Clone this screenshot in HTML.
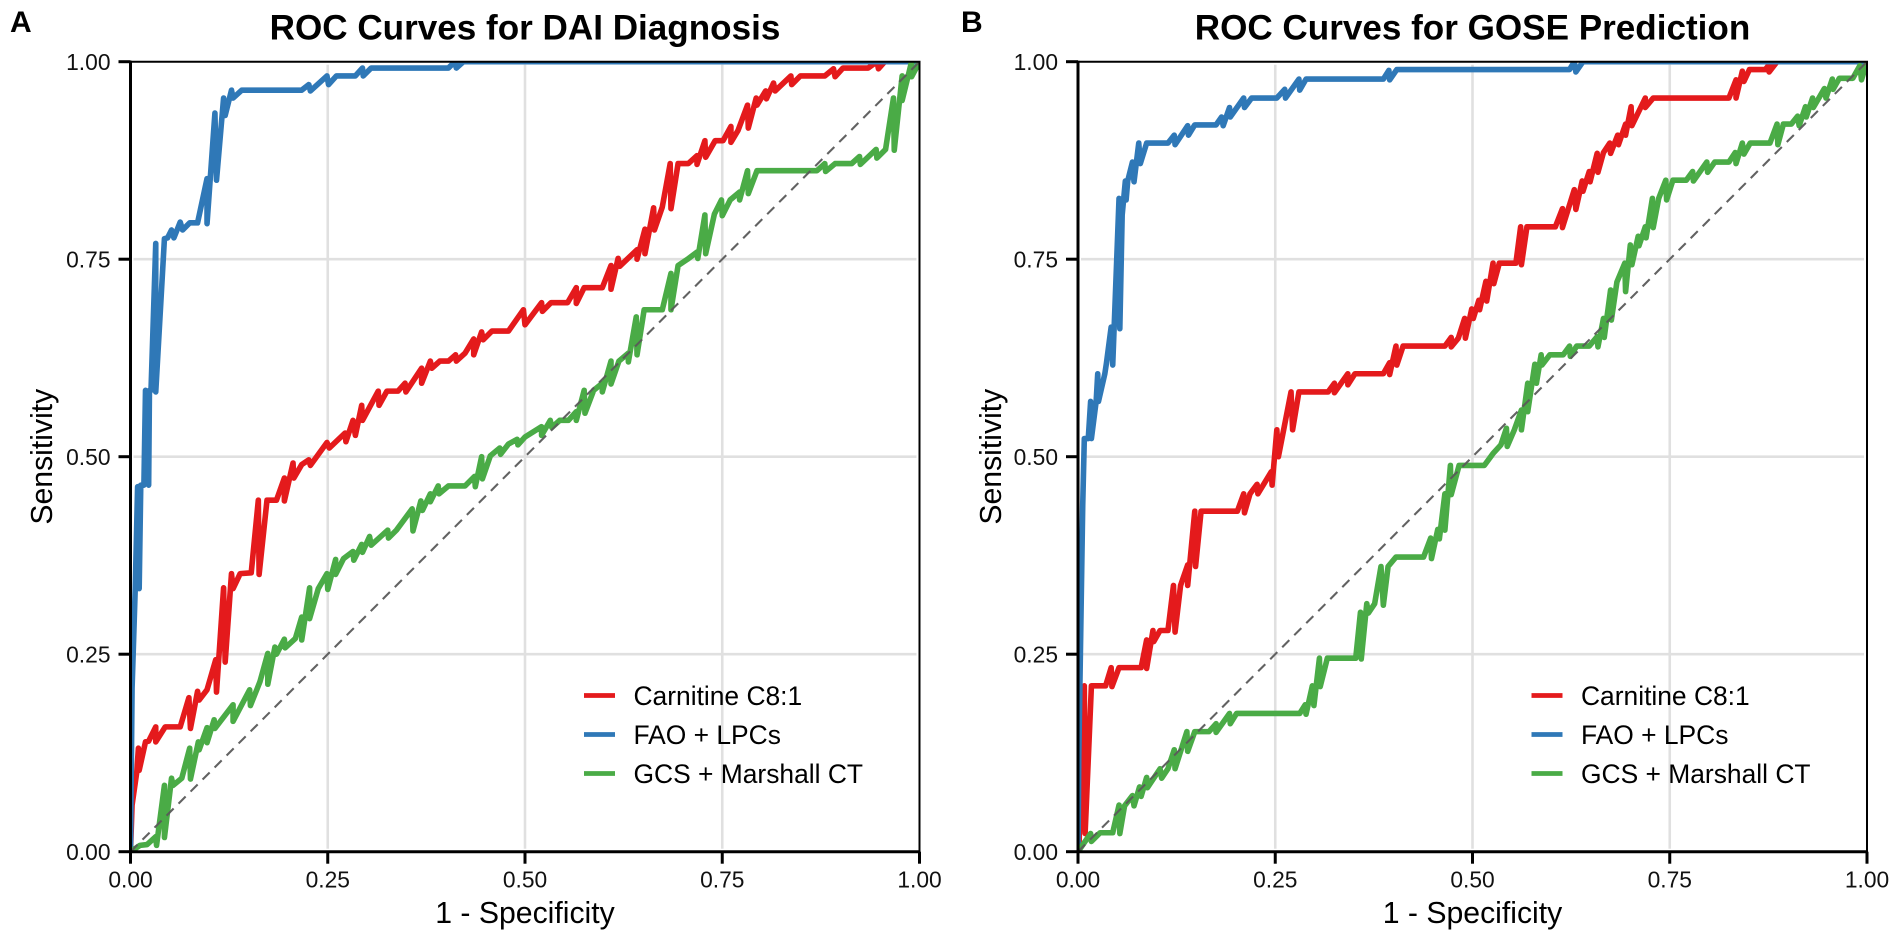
<!DOCTYPE html>
<html lang="en">
<head>
<meta charset="utf-8">
<title>ROC Curves</title>
<style>
html,body{margin:0;padding:0;background:#fff;width:1901px;height:941px;overflow:hidden}
svg{display:block;font-family:"Liberation Sans",Arial,sans-serif}
</style>
</head>
<body>
<svg id="figure" xmlns="http://www.w3.org/2000/svg" width="1901" height="941" viewBox="0 0 1901 941"></svg>
<script>
const tickValues = [0, 0.25, 0.5, 0.75, 1];
const tickLabels = ['0.00', '0.25', '0.50', '0.75', '1.00'];
const seriesNames = ['Carnitine C8:1', 'FAO + LPCs', 'GCS + Marshall CT'];
const diagonalLine = [[0, 0], [1, 1]];

const daiCarnitine = [[0,0],[.002,.059],[.008,.101],[.010,.131],[.011,.103],[.019,.139],[.023,.140],[.032,.158],[.032,.139],[.044,.158],[.063,.158],[.074,.195],[.076,.156],[.085,.203],[.087,.192],[.097,.205],[.108,.243],[.109,.202],[.118,.334],[.120,.240],[.128,.352],[.130,.333],[.139,.352],[.153,.353],[.162,.445],[.163,.351],[.173,.445],[.185,.445],[.195,.473],[.195,.444],[.206,.492],[.207,.473],[.217,.490],[.226,.496],[.228,.489],[.249,.518],[.252,.511],[.272,.530],[.273,.519],[.282,.546],[.285,.527],[.293,.565],[.294,.546],[.314,.583],[.315,.565],[.325,.583],[.339,.583],[.348,.593],[.349,.582],[.369,.612],[.369,.593],[.380,.621],[.382,.612],[.392,.621],[.403,.621],[.412,.629],[.413,.621],[.424,.631],[.435,.649],[.435,.629],[.445,.658],[.447,.648],[.458,.659],[.479,.659],[.498,.686],[.500,.667],[.521,.695],[.522,.684],[.533,.695],[.554,.695],[.565,.714],[.565,.694],[.575,.714],[.598,.714],[.609,.742],[.609,.712],[.618,.751],[.620,.741],[.642,.762],[.642,.750],[.652,.788],[.652,.757],[.663,.815],[.664,.787],[.674,.816],[.684,.871],[.685,.814],[.694,.871],[.707,.871],[.718,.881],[.718,.870],[.728,.900],[.729,.879],[.741,.900],[.751,.900],[.761,.918],[.761,.898],[.770,.913],[.782,.945],[.783,.916],[.793,.954],[.794,.945],[.805,.963],[.806,.953],[.815,.973],[.817,.963],[.837,.982],[.838,.971],[.849,.982],[.880,.982],[.891,.991],[.893,.981],[.903,.992],[.935,.992],[.946,1],[.948,.991],[.956,1],[1,1]];

const daiFaoLpc = [[0,0],[.002,.207],[.006,.333],[.009,.462],[.011,.333],[.013,.464],[.017,.464],[.019,.584],[.023,.464],[.024,.584],[.026,.584],[.032,.770],[.032,.582],[.043,.776],[.047,.777],[.052,.787],[.055,.777],[.063,.797],[.066,.787],[.075,.796],[.085,.796],[.097,.852],[.097,.795],[.107,.935],[.109,.850],[.118,.954],[.120,.932],[.128,.964],[.130,.954],[.141,.964],[.217,.964],[.226,.971],[.228,.963],[.249,.982],[.251,.971],[.261,.982],[.285,.982],[.294,.992],[.295,.982],[.305,.992],[.403,.992],[.411,1],[.413,.992],[.422,1],[1,1]];

const daiGcsMarshall = [[0,0],[.012,.008],[.021,.009],[.032,.019],[.033,.008],[.043,.084],[.043,.018],[.052,.093],[.054,.084],[.065,.093],[.075,.131],[.076,.092],[.086,.139],[.087,.129],[.097,.157],[.097,.138],[.106,.167],[.107,.156],[.120,.173],[.130,.186],[.130,.165],[.151,.205],[.152,.185],[.164,.215],[.174,.251],[.174,.212],[.183,.259],[.185,.250],[.195,.269],[.196,.258],[.209,.270],[.217,.297],[.217,.268],[.227,.334],[.227,.295],[.238,.333],[.249,.352],[.250,.332],[.260,.370],[.260,.351],[.270,.371],[.282,.380],[.283,.369],[.293,.389],[.294,.379],[.303,.399],[.305,.388],[.326,.407],[.327,.397],[.337,.407],[.357,.434],[.358,.406],[.368,.444],[.370,.432],[.380,.453],[.380,.443],[.390,.463],[.391,.453],[.403,.463],[.424,.463],[.436,.475],[.437,.462],[.445,.500],[.446,.472],[.456,.501],[.468,.511],[.469,.503],[.479,.516],[.490,.522],[.491,.515],[.5,.525],[.521,.538],[.521,.527],[.532,.546],[.534,.537],[.544,.546],[.555,.546],[.565,.557],[.565,.546],[.575,.584],[.576,.555],[.587,.584],[.598,.593],[.598,.582],[.609,.621],[.609,.592],[.619,.621],[.631,.631],[.631,.620],[.641,.677],[.642,.629],[.651,.686],[.663,.686],[.674,.686],[.685,.732],[.685,.686],[.694,.742],[.706,.750],[.718,.759],[.719,.751],[.728,.806],[.729,.757],[.740,.807],[.749,.825],[.750,.805],[.760,.825],[.772,.835],[.772,.825],[.782,.862],[.783,.833],[.794,.862],[.870,.862],[.880,.871],[.881,.861],[.893,.871],[.914,.871],[.924,.880],[.925,.870],[.945,.889],[.946,.878],[.957,.889],[.967,.954],[.968,.888],[.978,.982],[.978,.951],[.990,1],[.990,.981],[1,1]];

const goseCarnitine = [[.001,0],[.008,.210],[.009,.023],[.017,.210],[.035,.210],[.042,.233],[.043,.209],[.052,.233],[.080,.233],[.087,.268],[.087,.232],[.095,.280],[.096,.266],[.104,.280],[.114,.280],[.121,.337],[.123,.278],[.130,.337],[.139,.363],[.139,.337],[.148,.431],[.149,.361],[.156,.431],[.202,.431],[.210,.453],[.211,.429],[.218,.453],[.227,.465],[.228,.453],[.245,.481],[.246,.464],[.252,.534],[.254,.500],[.270,.582],[.272,.534],[.280,.582],[.317,.582],[.325,.593],[.325,.581],[.342,.605],[.342,.591],[.351,.605],[.387,.605],[.395,.619],[.395,.604],[.403,.640],[.404,.616],[.412,.640],[.465,.640],[.473,.651],[.473,.639],[.482,.650],[.490,.675],[.491,.650],[.499,.687],[.501,.675],[.508,.698],[.509,.686],[.517,.722],[.518,.697],[.526,.745],[.527,.719],[.534,.745],[.555,.745],[.561,.791],[.562,.743],[.569,.791],[.605,.791],[.614,.814],[.614,.790],[.629,.838],[.631,.813],[.639,.849],[.640,.836],[.648,.861],[.649,.848],[.658,.884],[.659,.860],[.666,.885],[.674,.897],[.675,.884],[.684,.907],[.685,.895],[.694,.921],[.694,.907],[.701,.943],[.702,.919],[.719,.954],[.719,.942],[.729,.954],[.825,.954],[.834,.977],[.834,.954],[.842,.988],[.844,.975],[.851,.990],[.871,.990],[.879,1],[.876,.987],[.886,1],[1,1]];

const goseFaoLpc = [[0,0],[.001,.122],[.003,.249],[.006,.439],[.008,.523],[.013,.523],[.016,.570],[.017,.523],[.023,.570],[.025,.605],[.026,.570],[.034,.605],[.036,.618],[.042,.664],[.044,.616],[.052,.827],[.053,.662],[.056,.806],[.060,.849],[.061,.825],[.063,.849],[.069,.873],[.071,.848],[.077,.897],[.079,.871],[.087,.897],[.114,.897],[.122,.907],[.123,.895],[.139,.919],[.140,.907],[.148,.920],[.175,.920],[.182,.930],[.184,.919],[.192,.942],[.193,.930],[.210,.954],[.211,.942],[.220,.954],[.252,.954],[.262,.965],[.263,.954],[.280,.978],[.281,.964],[.289,.978],[.387,.978],[.394,.989],[.395,.977],[.404,.990],[.623,.990],[.629,1],[.631,.987],[.640,1],[1,1]];

const goseGcsMarshall = [[0,0],[.016,.023],[.017,.013],[.028,.024],[.044,.024],[.052,.059],[.053,.023],[.059,.058],[.069,.071],[.071,.058],[.078,.082],[.080,.070],[.087,.094],[.088,.081],[.104,.105],[.106,.093],[.114,.105],[.122,.129],[.123,.105],[.138,.152],[.139,.127],[.148,.152],[.166,.152],[.175,.162],[.175,.151],[.192,.175],[.193,.162],[.201,.175],[.281,.175],[.288,.186],[.289,.174],[.297,.210],[.299,.185],[.306,.245],[.307,.209],[.316,.245],[.352,.245],[.358,.303],[.359,.244],[.366,.314],[.368,.302],[.376,.314],[.384,.361],[.387,.312],[.393,.361],[.403,.373],[.438,.373],[.447,.397],[.448,.371],[.456,.408],[.458,.396],[.465,.453],[.465,.407],[.472,.489],[.473,.452],[.483,.489],[.515,.489],[.526,.504],[.536,.515],[.543,.536],[.544,.513],[.553,.534],[.562,.559],[.562,.534],[.570,.593],[.570,.557],[.579,.617],[.581,.593],[.587,.629],[.588,.616],[.598,.629],[.615,.629],[.623,.640],[.624,.627],[.632,.640],[.648,.640],[.658,.652],[.659,.639],[.666,.675],[.667,.651],[.675,.711],[.676,.673],[.683,.721],[.693,.745],[.694,.709],[.700,.768],[.702,.743],[.710,.779],[.711,.767],[.719,.791],[.720,.777],[.728,.827],[.729,.790],[.736,.827],[.745,.850],[.746,.825],[.754,.850],[.771,.850],[.779,.861],[.780,.849],[.797,.873],[.798,.860],[.807,.873],[.825,.873],[.833,.885],[.834,.871],[.842,.897],[.844,.883],[.852,.897],[.877,.897],[.886,.921],[.887,.895],[.894,.921],[.904,.921],[.912,.931],[.914,.919],[.922,.943],[.923,.930],[.931,.954],[.932,.942],[.946,.966],[.948,.954],[.956,.978],[.957,.965],[.965,.979],[.982,.979],[.991,.995],[.993,.977],[1,1]];

const SVGNS = 'http://www.w3.org/2000/svg';
const root = document.getElementById('figure');
const plotW = 789, plotH = 790, plotTop = 61.7;
const seriesColors = ['#E41A1C', '#2F78B7', '#4AAB46'];

function make(tag, parent, props, text) {
  const el = document.createElementNS(SVGNS, tag);
  for (const k in props) el.setAttribute(k, props[k]);
  if (text !== undefined) el.textContent = text;
  parent.appendChild(el);
  return el;
}

function drawPanel(letter, letterX, titleText, x0, yTitleX, curves, clipId) {
  const xs = v => x0 + v * plotW;
  const ys = v => plotTop + plotH - v * plotH;
  const pathOf = pts => pts.map((p, i) => (i ? 'L' : 'M') + xs(p[0]).toFixed(2) + ' ' + ys(p[1]).toFixed(2)).join('');
  const x1 = x0 + plotW, y0 = ys(0), y1 = ys(1);

  const panel = make('g', root, {});
  
  

  const tag = make('text', panel, {x: letterX, y: 32, 'font-size': 30, 'font-weight': 'bold', fill: '#000'}, letter);
  
  

  const title = make('text', panel, {x: x0 + plotW / 2, y: 39.5, 'font-size': 35.1, 'font-weight': 'bold', 'text-anchor': 'middle', fill: '#000'}, titleText);
  
  

  const clip = make('clipPath', panel, {id: clipId});
  make('rect', clip, {x: x0, y: y1, width: plotW, height: plotH});

  const grid = make('g', panel, {stroke: '#e0e0e0', 'stroke-width': 2.6});
  
  
  tickValues.slice(1, -1).forEach(v => {
    const gx = make('line', grid, {x1: xs(v), x2: xs(v), y1: y1 + 3, y2: y0 - 3});
    
    
    const gy = make('line', grid, {y1: ys(v), y2: ys(v), x1: x0 + 3, x2: x1 - 3});
    
    
  });

  const lines = make('g', panel, {'clip-path': 'url(#' + clipId + ')', fill: 'none', 'stroke-width': 5.6, 'stroke-linejoin': 'round', 'stroke-linecap': 'round'});
  
  
  curves.forEach((pts, i) => {
    const c = make('path', lines, {d: pathOf(pts), stroke: seriesColors[i]});
    
    
  });

  const diag = make('path', panel, {d: pathOf(diagonalLine), stroke: '#5a5a5a', 'stroke-width': 2.1, 'stroke-dasharray': '10 7', 'stroke-opacity': 0.95, fill: 'none'});
  
  

  const axes = make('g', panel, {stroke: '#000'});
  
  
  const top = make('line', axes, {x1: x0, x2: x1 + 1, y1: y1, y2: y1, 'stroke-width': 2});
  
  
  const right = make('line', axes, {x1: x1, x2: x1, y1: y1, y2: y0, 'stroke-width': 2});
  
  
  const left = make('line', axes, {x1: x0, x2: x0, y1: y1 - 1, y2: y0 + 1.5, 'stroke-width': 3});
  
  
  const bottom = make('line', axes, {x1: x0 - 1.5, x2: x1 + 1, y1: y0, y2: y0, 'stroke-width': 3});
  
  

  tickValues.forEach((v, i) => {
    const tx = make('line', axes, {x1: xs(v), x2: xs(v), y1: y0, y2: y0 + 12, 'stroke-width': 3});
    
    
    const ty = make('line', axes, {x1: x0 - 12, x2: x0, y1: ys(v), y2: ys(v), 'stroke-width': 3});
    
    
    const lx = make('text', panel, {x: xs(v), y: y0 + 36, 'font-size': 22.8, 'text-anchor': 'middle', fill: '#111'}, tickLabels[i]);
    
    
    const ly = make('text', panel, {x: x0 - 20, y: ys(v) + 8.2, 'font-size': 22.8, 'text-anchor': 'end', fill: '#111'}, tickLabels[i]);
    
    
  });

  const xt = make('text', panel, {x: x0 + plotW / 2, y: 923, 'font-size': 30.2, 'text-anchor': 'middle', fill: '#000'}, '1 - Specificity');
  
  
  const yt = make('text', panel, {x: 0, y: 0, 'font-size': 30.2, 'text-anchor': 'middle', fill: '#000', transform: 'translate(' + yTitleX + ' ' + (plotTop + plotH / 2) + ') rotate(-90)'}, 'Sensitivity');
  
  

  const legend = make('g', panel, {});
  
  
  seriesNames.forEach((name, i) => {
    const ly = 695.5 + i * 39;
    const entry = make('g', legend, {});
    
    
    const key = make('line', entry, {x1: x0 + 453.5, x2: x0 + 484.5, y1: ly, y2: ly, stroke: seriesColors[i], 'stroke-width': 4.8});
    
    
    const lab = make('text', entry, {x: x0 + 503, y: ly + 9.3, 'font-size': 26.4, fill: '#000'}, name);
    
    
  });
}

drawPanel('A', 10, 'ROC Curves for DAI Diagnosis', 130.5, 52, [daiCarnitine, daiFaoLpc, daiGcsMarshall], 'clip-a');
drawPanel('B', 961, 'ROC Curves for GOSE Prediction', 1078, 1001, [goseCarnitine, goseFaoLpc, goseGcsMarshall], 'clip-b');
</script>
</body>
</html>
